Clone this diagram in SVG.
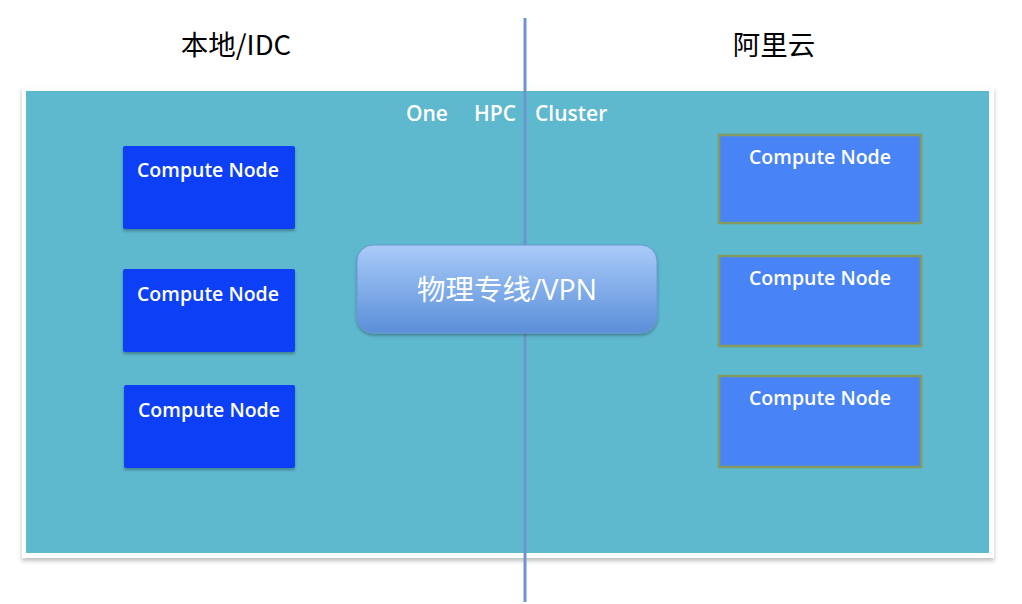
<svg xmlns="http://www.w3.org/2000/svg" width="1022" height="604" viewBox="0 0 1022 604">
  <defs>
    <linearGradient id="vpnGrad" x1="0" y1="0" x2="0" y2="1">
      <stop offset="0" stop-color="#a9cbf9"/>
      <stop offset="1" stop-color="#5a8fd9"/>
    </linearGradient>
    <filter id="shadow" x="-10%" y="-10%" width="120%" height="130%">
      <feDropShadow dx="0" dy="2" stdDeviation="1.5" flood-color="#000" flood-opacity="0.3"/>
    </filter>
    <filter id="frameShadow" x="-5%" y="-5%" width="110%" height="115%">
      <feDropShadow dx="0" dy="3" stdDeviation="2" flood-color="#000" flood-opacity="0.25"/>
    </filter>
  </defs>
  <style>
    .title { font-family: "Noto Sans CJK SC", "Liberation Sans", sans-serif; font-size: 27.5px; fill: #000; text-anchor: middle; }
    .cluster { font-family: "Open Sans", "Liberation Sans", sans-serif; font-size: 21px; font-weight: 600; fill: #fff; }
    .cn { font-family: "Open Sans", "Liberation Sans", sans-serif; font-size: 19.5px; font-weight: 600; fill: #fff; text-anchor: middle; }
    .local { fill: #1040f6; filter: url(#shadow); }
    .cloud { fill: #4884f5; stroke: #849a5e; stroke-width: 2.5; }
    .vpnText { font-family: "Open Sans", "Noto Sans CJK SC", sans-serif; font-size: 28.5px; fill: #fff; text-anchor: middle; }
  </style>
  <rect width="1022" height="604" fill="#fff"/>

  <g id="titles">
    <text class="title" x="236" y="55">本地/IDC</text>
    <text class="title" x="774" y="55">阿里云</text>
  </g>

  <g id="cluster">
    <rect x="22" y="87" width="972" height="471" fill="#fff" filter="url(#frameShadow)"/>
    <rect x="26" y="91" width="963" height="462" fill="#5eb8ce"/>
    <text class="cluster" y="121"><tspan x="406">One</tspan><tspan x="474">HPC</tspan><tspan x="535">Cluster</tspan></text>
  </g>

  <g id="connectors">
    <line x1="525" y1="18" x2="525" y2="602" stroke="#6b95cc" stroke-width="3"/>
  </g>

  <g id="local-node-1">
    <rect class="local" x="123" y="146" width="172" height="83" rx="2"/>
    <text class="cn" x="208" y="177">Compute Node</text>
  </g>
  <g id="local-node-2">
    <rect class="local" x="123" y="269" width="172" height="83" rx="2"/>
    <text class="cn" x="208" y="301">Compute Node</text>
  </g>
  <g id="local-node-3">
    <rect class="local" x="124" y="385" width="171" height="83" rx="2"/>
    <text class="cn" x="209" y="417">Compute Node</text>
  </g>

  <g id="cloud-node-1">
    <rect class="cloud" x="719" y="135" width="202" height="88"/>
    <text class="cn" x="820" y="164">Compute Node</text>
  </g>
  <g id="cloud-node-2">
    <rect class="cloud" x="719" y="256" width="202" height="90"/>
    <text class="cn" x="820" y="285">Compute Node</text>
  </g>
  <g id="cloud-node-3">
    <rect class="cloud" x="719" y="376" width="202" height="91"/>
    <text class="cn" x="820" y="405">Compute Node</text>
  </g>

  <g id="vpn">
    <rect x="357" y="245" width="300" height="88" rx="16" fill="url(#vpnGrad)" stroke="#6d98d2" stroke-width="1" filter="url(#shadow)"/>
    <text class="vpnText" x="507" y="300">物理专线/VPN</text>
  </g>
</svg>
